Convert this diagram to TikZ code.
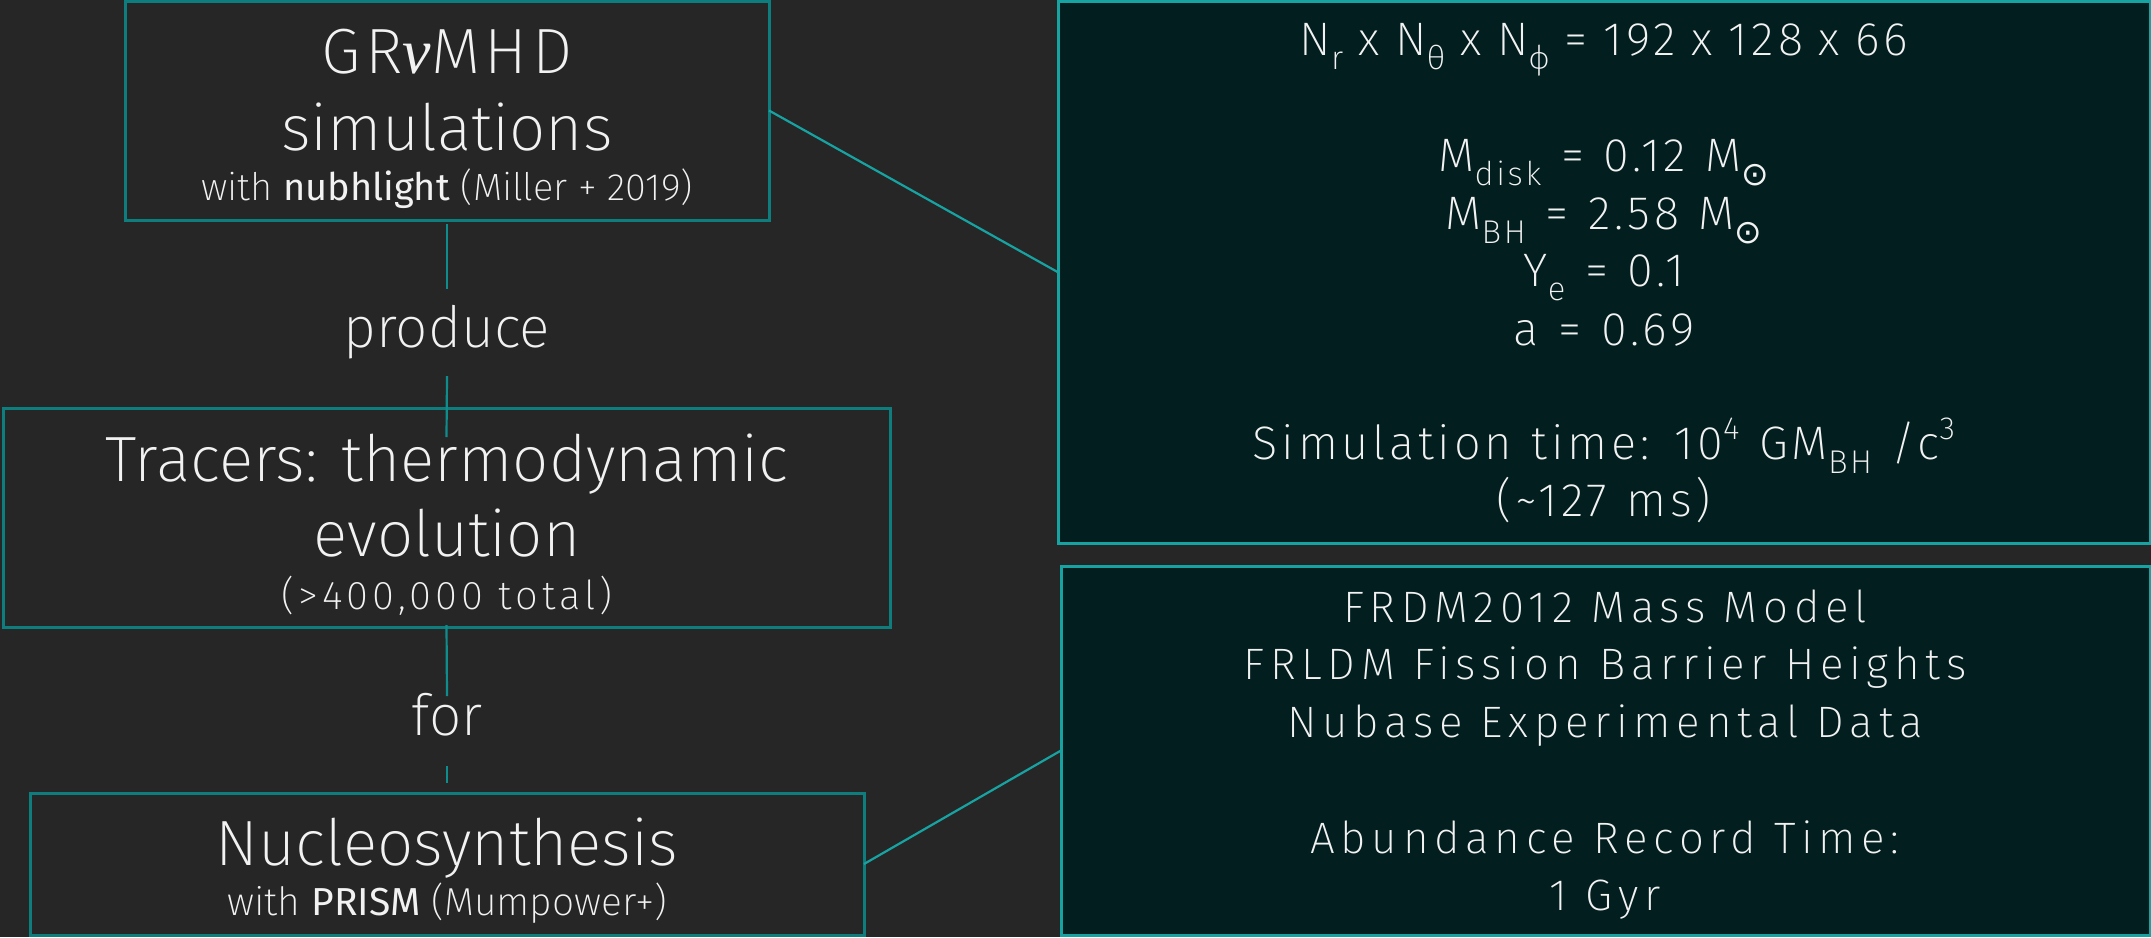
\documentclass[tikz,border=0pt]{standalone}
\usepackage{graphicx}
\usepackage{fontspec}
\IfFontExistsTF{Fira Sans ExtraLight}{%
  \setmainfont{Fira Sans ExtraLight}[BoldFont={Fira Sans}]}{%
  \IfFontExistsTF{Fira Sans Light}{%
    \setmainfont{Fira Sans Light}[BoldFont={Fira Sans}]}{%
    \IfFontExistsTF{Lato Light}{%
      \setmainfont{Lato Light}[BoldFont={Lato}]}{%
      \setmainfont{Fira Sans}}}}
\newfontfamily\seriffam{Liberation Serif}
\newfontfamily\symfam{DejaVu Sans}
\newcommand\lo[1]{\raisebox{-0.3em}{\scalebox{0.7}{#1}}}
\newcommand\hi[1]{\raisebox{0.42em}{\scalebox{0.68}{#1}}}
\newcommand\sun{\lo{\symfam ⊙}}
\newlength\wsamount
\newcommand\ws[1]{\setlength\wsamount{#1em}\spaceskip=\wsamount\relax}
\definecolor{bg}{RGB}{38,38,38}
\definecolor{tealL}{RGB}{14,125,125}
\definecolor{tealR}{RGB}{24,163,163}
\definecolor{tealC}{RGB}{15,140,140}
\definecolor{boxfill}{RGB}{2,30,31}
\definecolor{fg}{RGB}{242,242,242}
\begin{document}
\begin{tikzpicture}[x=1pt,y=-1pt,
  leftbox/.style={draw=tealL, line width=3pt, fill=bg, outer sep=0pt, inner sep=0pt, anchor=north west},
  rightbox/.style={draw=tealR, line width=3pt, fill=boxfill, outer sep=0pt, inner sep=0pt, anchor=north west},
  conn/.style={draw=tealC, line width=2.2pt},
  txt/.style={text=fg, inner sep=0pt, anchor=base},
  huge/.style={txt, font=\fontsize{64}{76}\selectfont},
  grtitle/.style={txt, font=\fontsize{64}{76}\selectfont\addfontfeature{LetterSpace=7}},
  mid/.style={txt, font=\fontsize{57}{68}\selectfont},
  small/.style={txt, font=\fontsize{38}{44}\selectfont},
  smallb/.style={txt, font=\fontsize{39}{45}\selectfont},
  spaced/.style={txt, font=\fontsize{40}{46}\selectfont\addfontfeature{LetterSpace=10}},
  info/.style={txt, font=\fontsize{47}{56}\selectfont\addfontfeature{LetterSpace=8}},
  infoa/.style={txt, font=\fontsize{47}{56}\selectfont\addfontfeature{LetterSpace=9}},
  infob/.style={txt, font=\fontsize{44}{52}\selectfont\addfontfeature{LetterSpace=13}}
]
\useasboundingbox (0,0) rectangle (2151,937);
\fill[bg] (0,0) rectangle (2151,937);

% boxes
\node[leftbox, minimum width=644pt, minimum height=219pt] (gr) at (125,1) {};
\node[leftbox, minimum width=887pt, minimum height=219pt] (tr) at (3,408) {};
\node[leftbox, minimum width=834pt, minimum height=142pt] (nuc) at (30,793) {};
\node[rightbox, minimum width=1092pt, minimum height=541.5pt] (sim) at (1058,1.5) {};
\node[rightbox, minimum width=1089pt, minimum height=369pt] (nd) at (1061,566) {};

% left texts
\node[grtitle] (t1) at (447,73) {GR{\seriffam\itshape ν}MHD};
\node[huge] (t2) at (447,150) {simulations};
\node[small] (t3) at (447,200) {with \textbf{nubhlight} (Miller + 2019)};
\node[mid] (produce) at (447,347) {produce};
\node[huge] (t4) at (447,481) {Tracers: thermodynamic};
\node[huge] (t5) at (447,556) {evolution};
\node[spaced] (t6) at (447,609) {(>400,000 total)};
\node[mid] (for) at (447,735) {for};
\node[huge] (t7) at (447,865) {Nucleosynthesis};
\node[smallb] (t8) at (447,915) {with \textbf{PRISM} (Mumpower+)};

% right top texts
\node[infoa] (r1) at (1604,55) {\ws{0.33}N\lo{r} x N\lo{θ} x N\lo{ϕ} = 192 x 128 x 66};
\node[info] (r2) at (1604,171) {\ws{0.42}M\lo{disk} = 0.12 M\sun};
\node[info] (r3) at (1604,229) {\ws{0.42}M\lo{BH} = 2.58 M\sun};
\node[info] (r4) at (1604,286) {\ws{0.42}Y\lo{e} = 0.1};
\node[info] (r5) at (1604,345) {\ws{0.42}a = 0.69};
\node[info] (r6) at (1604,459) {\ws{0.42}Simulation time: 10\hi{4} GM\lo{BH} /c\hi{3}};
\node[info] (r7) at (1604,516) {\ws{0.42}(\textasciitilde127 ms)};

% right bottom texts
\node[infob] (s1) at (1605,622) {FRDM2012 Mass Model};
\node[infob] (s2) at (1605,679) {FRLDM Fission Barrier Heights};
\node[infob] (s3) at (1605,737) {Nubase Experimental Data};
\node[infob] (s4) at (1605,853) {Abundance Record Time:};
\node[infob] (s5) at (1605,910) {1 Gyr};

% connectors
\draw[conn] ([yshift=-4pt]gr.south) -- ([yshift=58pt]produce.base);
\draw[conn] ([yshift=-29pt]produce.base) -- ([yshift=-29pt]tr.north);
\draw[conn] ([yshift=2pt]tr.south) -- ([yshift=39pt]for.base);
\draw[conn] ([yshift=-31pt]for.base) -- ([yshift=10pt]nuc.north);
\draw[conn, draw=tealR] (gr.east) -- (sim.west);
\draw[conn, draw=tealR] (nuc.east) -- (nd.west);
\end{tikzpicture}
\end{document}
